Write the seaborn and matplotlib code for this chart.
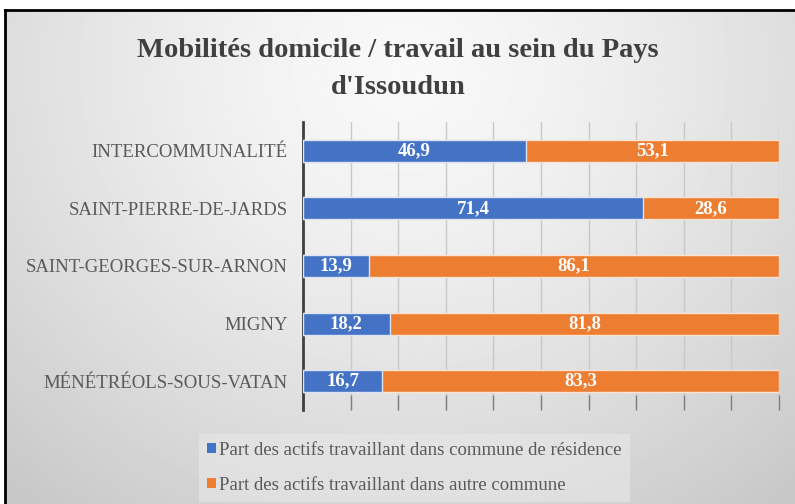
import numpy as np
import pandas as pd
import matplotlib
matplotlib.use("Agg")
import matplotlib.pyplot as plt
import seaborn as sns
from matplotlib.patches import Patch

communes = ["INTERCOMMUNALITÉ", "SAINT-PIERRE-DE-JARDS", "SAINT-GEORGES-SUR-ARNON",
            "MIGNY", "MÉNÉTRÉOLS-SOUS-VATAN"]
part_residence = [46.9, 71.4, 13.9, 18.2, 16.7]
part_autre = [53.1, 28.6, 86.1, 81.8, 83.3]
series_names = ["Part des actifs travaillant dans commune de résidence",
                "Part des actifs travaillant dans autre commune"]
title = "Mobilités domicile / travail au sein du Pays\nd'Issoudun"

BLUE = "#4472C4"
ORANGE = "#ED7D31"

sns.set_theme(style="white")
plt.rcParams["font.family"] = ["Liberation Serif", "DejaVu Serif"]

W, H = 795, 504
fig = plt.figure(figsize=(W / 100, H / 100), dpi=100)
fig.patch.set_facecolor("white")

# gradient background of the chart frame (frame continues past right/bottom edges)
bx0, by0, bx1, by1 = 5, 10, 802, 510
bg = fig.add_axes([bx0 / W, 1 - by1 / H, (bx1 - bx0) / W, (by1 - by0) / H], zorder=0)
yy, xx = np.mgrid[0:1:300j, 0:1:500j]
r = np.sqrt(((xx - 0.5) / 0.75) ** 2 + ((yy - 0.12) / 1.1) ** 2)
r = np.clip(r, 0, 1)
val = 0.975 - 0.19 * r ** 1.4
bg.imshow(val, cmap="gray", vmin=0, vmax=1, aspect="auto", extent=[0, 1, 1, 0])
bg.set_xticks([]); bg.set_yticks([])
for s in bg.spines.values():
    s.set_color("black"); s.set_linewidth(2)

# main plot
ax = fig.add_axes([303 / W, 1 - 410 / H, (779 - 303) / W, (410 - 122) / H], zorder=2)
ax.patch.set_alpha(0)
df = pd.DataFrame({"commune": communes, "res": part_residence, "autre": part_autre})
df["total"] = df["res"] + df["autre"]

sns.barplot(data=df, x="total", y="commune", color=ORANGE, width=0.38,
            edgecolor="#fbe3d2", linewidth=1.0, ax=ax, saturation=1, zorder=3)
sns.barplot(data=df, x="res", y="commune", color=BLUE, width=0.38,
            edgecolor="#dbe4f4", linewidth=1.0, ax=ax, saturation=1, zorder=4)

for i, (a, b) in enumerate(zip(part_residence, part_autre)):
    ax.text(a / 2, i, f"{a:.1f}".replace(".", ","), ha="center", va="center",
            color="white", fontsize=13.5, fontweight="bold", zorder=5)
    ax.text(a + b / 2, i, f"{b:.1f}".replace(".", ","), ha="center", va="center",
            color="white", fontsize=13.5, fontweight="bold", zorder=5)

ax.set_xlim(0, 100)
ax.set_ylim(4.5, -0.5)
ax.set_xticks(np.arange(0, 101, 10))
ax.xaxis.grid(True, color="#c8c8c8", linewidth=1.0, zorder=0)
ax.set_axisbelow(True)
ax.tick_params(axis="x", which="both", direction="in", length=11, width=1.0,
               color="#7f7f7f", labelbottom=False, bottom=True)
ax.tick_params(axis="y", length=0, pad=11, labelsize=13.5, labelcolor="#595959")
ax.set_xlabel(""); ax.set_ylabel("")
for k in ["top", "right", "bottom"]:
    ax.spines[k].set_visible(False)
ax.spines["left"].set_color("#404040")
ax.spines["left"].set_linewidth(2)

fig.text(398 / W, 1 - 69 / H, title, ha="center", va="center", fontsize=20.5,
         fontweight="bold", color="#404040", linespacing=1.6)

# legend
handles = [Patch(facecolor=BLUE, edgecolor="none"), Patch(facecolor=ORANGE, edgecolor="none")]
leg = fig.legend(handles, series_names, loc="center left",
                 bbox_to_anchor=(199 / W, 1 - 468 / H), frameon=True, fontsize=13.5,
                 handlelength=0.45, handleheight=0.45, handletextpad=0.15,
                 labelspacing=0.95, borderpad=0.45, borderaxespad=0)
leg.get_frame().set_facecolor("#e8e8e8")
leg.get_frame().set_edgecolor("none")
leg.get_frame().set_alpha(0.6)
leg.get_frame().set_boxstyle("square", pad=0)
for t in leg.get_texts():
    t.set_color("#595959")
leg.set_zorder(3)

fig.savefig("out.png", dpi=100)
